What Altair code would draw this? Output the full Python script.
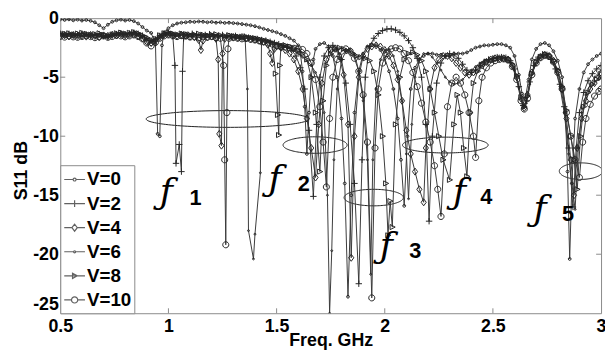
import altair as alt
import pandas as pd

SERIES = ["V=0", "V=2", "V=4", "V=6", "V=8", "V=10"]

V0 = [(0.50,-0.10),(0.52,-0.15),(0.54,-0.10),(0.56,-0.18),(0.58,-0.12),(0.60,-0.20),(0.62,-0.15),(0.64,-0.22),(0.66,-0.35),(0.68,-0.60),(0.70,-0.85),(0.72,-0.55),(0.74,-0.30),(0.76,-0.18),(0.78,-0.12),(0.80,-0.20),(0.82,-0.15),(0.84,-0.25),(0.86,-0.45),(0.88,-0.75),(0.90,-1.05),(0.92,-1.25),(0.94,-2.2),(0.95,-9.8),(0.96,-10.0),(0.97,-2.3),(0.98,-1.20),(1.00,-0.85),(1.02,-0.60),(1.04,-0.45),(1.06,-0.38),(1.08,-0.35),(1.10,-0.30),(1.12,-0.32),(1.14,-0.28),(1.16,-0.30),(1.18,-0.35),(1.20,-0.32),(1.22,-0.38),(1.24,-0.35),(1.26,-0.40),(1.28,-0.38),(1.30,-0.42),(1.32,-0.45),(1.34,-0.50),(1.36,-0.55),(1.38,-0.60),(1.40,-0.68),(1.42,-0.78),(1.44,-0.90),(1.46,-1.00),(1.48,-1.10),(1.50,-1.20),(1.52,-1.35),(1.54,-1.50),(1.56,-1.70),(1.58,-1.90),(1.60,-2.30),(1.61,-3.0),(1.62,-4.5),(1.63,-7.5),(1.64,-11.5),(1.65,-8.0),(1.66,-5.0),(1.67,-3.5),(1.68,-2.6),(1.70,-2.2),(1.72,-2.1),(1.74,-2.4),(1.76,-3.2),(1.78,-5.0),(1.80,-8.5),(1.815,-14.0),(1.83,-23.6),(1.845,-15.0),(1.86,-8.0),(1.88,-4.5),(1.90,-3.0),(1.92,-2.4),(1.94,-2.2),(1.96,-2.3),(1.98,-2.7),(2.00,-3.4),(2.02,-4.5),(2.04,-6.0),(2.06,-8.5),(2.075,-12.0),(2.09,-15.9),(2.105,-10.0),(2.12,-6.0),(2.14,-4.2),(2.16,-3.5),(2.18,-3.2),(2.20,-3.0),(2.22,-3.0),(2.24,-3.1),(2.26,-3.1),(2.28,-3.2),(2.30,-3.2),(2.32,-3.0),(2.34,-3.0),(2.36,-3.0),(2.38,-2.9),(2.40,-2.7),(2.42,-2.5),(2.44,-2.4),(2.46,-2.3),(2.48,-2.3),(2.50,-2.25),(2.52,-2.2),(2.54,-2.2),(2.56,-2.3),(2.58,-2.5),(2.60,-3.2),(2.62,-4.8),(2.635,-6.4),(2.65,-6.8),(2.665,-5.2),(2.68,-3.5),(2.70,-2.6),(2.72,-2.2),(2.74,-2.1),(2.76,-2.3),(2.78,-2.8),(2.80,-3.6),(2.82,-5.0),(2.835,-8.0),(2.845,-13.0),(2.855,-20.4),(2.865,-14.0),(2.88,-8.5),(2.90,-6.0),(2.92,-4.6),(2.94,-3.9),(2.96,-3.5),(2.98,-3.2),(3.00,-3.0)]

V2 = [(0.50,-1.30),(0.52,-1.38),(0.54,-1.32),(0.56,-1.45),(0.58,-1.40),(0.60,-1.30),(0.62,-1.38),(0.64,-1.48),(0.66,-1.42),(0.68,-1.35),(0.70,-1.50),(0.72,-1.58),(0.74,-1.45),(0.76,-1.35),(0.78,-1.28),(0.80,-1.38),(0.82,-1.30),(0.84,-1.22),(0.86,-1.32),(0.88,-1.48),(0.90,-1.70),(0.92,-1.90),(0.94,-1.80),(0.96,-1.50),(0.98,-1.32),(1.00,-1.25),(1.02,-1.45),(1.03,-4.0),(1.035,-12.3),(1.05,-10.7),(1.06,-13.0),(1.065,-4.5),(1.07,-1.7),(1.09,-1.40),(1.11,-1.32),(1.13,-1.40),(1.15,-1.50),(1.17,-1.42),(1.19,-1.35),(1.21,-1.45),(1.23,-1.52),(1.25,-1.42),(1.27,-1.50),(1.29,-1.56),(1.31,-1.50),(1.33,-1.60),(1.35,-1.55),(1.37,-1.65),(1.39,-1.70),(1.41,-1.76),(1.43,-1.85),(1.45,-1.90),(1.47,-2.00),(1.49,-2.10),(1.51,-2.20),(1.53,-2.32),(1.55,-2.45),(1.57,-2.70),(1.59,-3.20),(1.61,-4.20),(1.63,-6.00),(1.65,-9.50),(1.67,-15.1),(1.685,-9.0),(1.70,-5.0),(1.72,-3.2),(1.74,-2.5),(1.76,-2.3),(1.78,-2.6),(1.80,-3.5),(1.82,-5.5),(1.84,-9.0),(1.86,-14.0),(1.88,-22.5),(1.895,-12.0),(1.91,-5.0),(1.93,-2.4),(1.95,-1.7),(1.97,-1.3),(1.99,-1.05),(2.01,-0.92),(2.03,-0.90),(2.05,-1.0),(2.07,-1.2),(2.09,-1.5),(2.11,-1.9),(2.13,-2.5),(2.15,-3.4),(2.17,-5.0),(2.19,-9.0),(2.205,-17.2),(2.22,-10.0),(2.24,-5.5),(2.26,-3.8),(2.28,-3.2),(2.30,-3.0),(2.32,-3.1),(2.34,-3.4),(2.36,-3.9),(2.38,-4.4),(2.40,-4.6),(2.42,-4.4),(2.44,-4.0),(2.46,-3.7),(2.48,-3.5),(2.50,-3.4),(2.52,-3.3),(2.54,-3.3),(2.56,-3.35),(2.58,-3.6),(2.60,-4.3),(2.62,-5.8),(2.64,-7.4),(2.655,-7.0),(2.67,-5.4),(2.69,-4.0),(2.71,-3.3),(2.73,-3.05),(2.75,-3.1),(2.77,-3.5),(2.79,-4.3),(2.81,-5.6),(2.83,-7.5),(2.85,-11.0),(2.87,-16.0),(2.885,-11.0),(2.90,-8.0),(2.92,-6.3),(2.94,-5.3),(2.96,-4.7),(2.98,-4.3),(3.00,-4.0)]

V4 = [(0.50,-1.50),(0.52,-1.45),(0.54,-1.55),(0.56,-1.42),(0.58,-1.50),(0.60,-1.46),(0.62,-1.56),(0.64,-1.42),(0.66,-1.50),(0.68,-1.60),(0.70,-1.46),(0.72,-1.50),(0.74,-1.40),(0.76,-1.46),(0.78,-1.36),(0.80,-1.45),(0.82,-1.40),(0.84,-1.35),(0.86,-1.50),(0.88,-1.70),(0.90,-2.00),(0.92,-2.10),(0.94,-1.90),(0.96,-1.60),(0.98,-1.40),(1.00,-1.35),(1.02,-1.45),(1.04,-1.50),(1.06,-1.40),(1.08,-1.45),(1.10,-1.55),(1.12,-1.62),(1.14,-1.85),(1.15,-2.70),(1.16,-1.90),(1.18,-1.60),(1.20,-1.55),(1.22,-1.75),(1.23,-3.5),(1.235,-9.8),(1.245,-10.8),(1.25,-3.0),(1.26,-1.75),(1.28,-1.55),(1.30,-1.60),(1.32,-1.66),(1.34,-1.60),(1.36,-1.70),(1.38,-1.75),(1.40,-1.80),(1.42,-1.90),(1.44,-2.00),(1.46,-2.25),(1.47,-3.0),(1.48,-3.8),(1.49,-2.6),(1.50,-2.40),(1.52,-2.50),(1.54,-2.70),(1.56,-3.00),(1.58,-3.50),(1.60,-4.50),(1.62,-6.00),(1.64,-8.50),(1.66,-11.0),(1.68,-13.5),(1.695,-9.0),(1.71,-5.5),(1.73,-3.5),(1.75,-2.7),(1.77,-2.6),(1.79,-3.2),(1.81,-4.8),(1.83,-9.0),(1.845,-20.3),(1.86,-10.0),(1.88,-5.0),(1.90,-3.2),(1.92,-2.6),(1.94,-2.4),(1.96,-2.3),(1.98,-2.4),(2.00,-2.7),(2.02,-3.2),(2.04,-4.0),(2.06,-5.2),(2.08,-7.0),(2.10,-9.5),(2.12,-11.5),(2.14,-13.0),(2.16,-14.5),(2.18,-15.6),(2.19,-11.0),(2.21,-6.0),(2.23,-4.2),(2.25,-3.5),(2.27,-3.2),(2.29,-3.2),(2.31,-3.4),(2.33,-3.8),(2.35,-4.2),(2.37,-4.6),(2.39,-4.8),(2.41,-4.6),(2.43,-4.3),(2.45,-4.0),(2.47,-3.7),(2.49,-3.5),(2.51,-3.4),(2.53,-3.4),(2.55,-3.4),(2.57,-3.5),(2.59,-4.0),(2.61,-5.0),(2.63,-6.8),(2.645,-7.6),(2.66,-6.5),(2.68,-4.6),(2.70,-3.7),(2.72,-3.3),(2.74,-3.1),(2.76,-3.2),(2.78,-3.6),(2.80,-4.5),(2.82,-6.0),(2.84,-8.5),(2.86,-12.0),(2.875,-15.0),(2.89,-11.0),(2.91,-8.5),(2.93,-7.0),(2.95,-6.0),(2.97,-5.5),(2.99,-5.0),(3.00,-4.8)]

V6 = [(0.50,-1.40),(0.52,-1.48),(0.54,-1.40),(0.56,-1.35),(0.58,-1.45),(0.60,-1.52),(0.62,-1.45),(0.64,-1.36),(0.66,-1.42),(0.68,-1.50),(0.70,-1.62),(0.72,-1.52),(0.74,-1.40),(0.76,-1.32),(0.78,-1.40),(0.80,-1.35),(0.82,-1.28),(0.84,-1.32),(0.86,-1.42),(0.88,-1.60),(0.90,-1.85),(0.92,-2.00),(0.94,-1.95),(0.96,-1.65),(0.98,-1.45),(1.00,-1.30),(1.02,-1.38),(1.04,-1.45),(1.06,-1.36),(1.08,-1.42),(1.10,-1.50),(1.12,-1.45),(1.14,-1.40),(1.16,-1.48),(1.18,-1.55),(1.20,-1.50),(1.22,-1.46),(1.24,-1.55),(1.26,-1.60),(1.28,-1.55),(1.30,-1.62),(1.32,-1.66),(1.34,-1.70),(1.355,-1.9),(1.365,-6.0),(1.37,-18.0),(1.393,-20.4),(1.40,-18.3),(1.425,-13.1),(1.43,-2.2),(1.44,-1.90),(1.46,-1.95),(1.48,-2.05),(1.50,-2.15),(1.52,-2.25),(1.54,-2.40),(1.56,-2.55),(1.58,-2.75),(1.60,-3.00),(1.62,-3.30),(1.64,-3.60),(1.66,-4.00),(1.68,-4.60),(1.70,-5.50),(1.72,-8.0),(1.735,-15.0),(1.745,-25.0),(1.755,-19.7),(1.765,-12.0),(1.78,-6.0),(1.80,-3.6),(1.82,-2.8),(1.84,-2.6),(1.86,-3.0),(1.88,-4.5),(1.90,-7.0),(1.92,-12.0),(1.935,-21.7),(1.945,-12.0),(1.96,-6.0),(1.98,-3.5),(2.00,-2.7),(2.02,-2.6),(2.04,-3.2),(2.06,-4.5),(2.08,-7.0),(2.10,-11.5),(2.11,-15.3),(2.125,-9.0),(2.14,-5.0),(2.16,-3.5),(2.18,-3.0),(2.20,-3.0),(2.22,-3.3),(2.24,-3.8),(2.26,-4.4),(2.28,-5.0),(2.30,-5.4),(2.32,-5.6),(2.34,-5.5),(2.36,-5.2),(2.38,-4.8),(2.40,-4.4),(2.42,-4.1),(2.44,-3.8),(2.46,-3.6),(2.48,-3.5),(2.50,-3.45),(2.52,-3.4),(2.54,-3.4),(2.56,-3.45),(2.58,-3.7),(2.60,-4.4),(2.62,-5.9),(2.64,-7.5),(2.655,-7.2),(2.67,-5.6),(2.69,-4.1),(2.71,-3.4),(2.73,-3.15),(2.75,-3.15),(2.77,-3.5),(2.79,-4.4),(2.81,-5.8),(2.83,-8.0),(2.85,-11.5),(2.865,-14.0),(2.88,-16.2),(2.895,-11.0),(2.91,-8.0),(2.93,-6.5),(2.95,-5.6),(2.97,-5.0),(2.99,-4.6),(3.00,-4.4)]

V8 = [(0.50,-1.25),(0.52,-1.32),(0.54,-1.28),(0.56,-1.38),(0.58,-1.30),(0.60,-1.25),(0.62,-1.32),(0.64,-1.40),(0.66,-1.35),(0.68,-1.28),(0.70,-1.42),(0.72,-1.50),(0.74,-1.38),(0.76,-1.28),(0.78,-1.22),(0.80,-1.30),(0.82,-1.24),(0.84,-1.18),(0.86,-1.28),(0.88,-1.45),(0.90,-1.65),(0.92,-1.85),(0.94,-1.75),(0.96,-1.45),(0.98,-1.28),(1.00,-1.20),(1.02,-1.30),(1.04,-1.38),(1.06,-1.30),(1.08,-1.35),(1.10,-1.42),(1.12,-1.38),(1.14,-1.32),(1.16,-1.40),(1.18,-1.46),(1.20,-1.40),(1.22,-1.36),(1.24,-1.44),(1.26,-1.50),(1.28,-1.45),(1.30,-1.52),(1.32,-1.56),(1.34,-1.60),(1.36,-1.58),(1.38,-1.66),(1.40,-1.72),(1.42,-1.78),(1.44,-1.86),(1.46,-1.95),(1.48,-2.10),(1.495,-4.7),(1.505,-8.2),(1.51,-9.9),(1.515,-4.0),(1.52,-2.40),(1.54,-2.30),(1.56,-2.40),(1.58,-2.55),(1.60,-2.75),(1.62,-3.00),(1.64,-3.50),(1.66,-5.00),(1.68,-8.00),(1.70,-13.0),(1.715,-7.0),(1.73,-4.0),(1.75,-3.0),(1.77,-2.6),(1.79,-2.5),(1.81,-2.6),(1.83,-2.8),(1.85,-3.0),(1.87,-3.2),(1.89,-3.3),(1.91,-3.4),(1.93,-3.6),(1.95,-4.5),(1.97,-6.5),(1.99,-10.0),(2.005,-14.0),(2.015,-18.4),(2.025,-15.5),(2.035,-17.7),(2.05,-9.0),(2.07,-5.0),(2.09,-3.5),(2.11,-3.0),(2.13,-2.9),(2.15,-3.1),(2.17,-3.6),(2.19,-4.5),(2.21,-6.0),(2.23,-8.0),(2.25,-10.0),(2.27,-12.0),(2.30,-13.7),(2.32,-9.0),(2.335,-6.5),(2.35,-8.0),(2.365,-11.0),(2.38,-13.4),(2.395,-8.0),(2.41,-5.5),(2.43,-4.5),(2.45,-4.0),(2.47,-3.7),(2.49,-3.55),(2.51,-3.45),(2.53,-3.4),(2.55,-3.42),(2.57,-3.5),(2.59,-3.9),(2.61,-4.9),(2.63,-6.7),(2.645,-7.5),(2.66,-6.6),(2.68,-4.7),(2.70,-3.7),(2.72,-3.3),(2.74,-3.1),(2.76,-3.2),(2.78,-3.6),(2.80,-4.4),(2.82,-5.8),(2.84,-7.8),(2.86,-10.0),(2.875,-12.0),(2.89,-14.5),(2.905,-10.0),(2.92,-7.5),(2.94,-6.3),(2.96,-5.6),(2.98,-5.2),(3.00,-5.0)]

V10 = [(0.50,-1.55),(0.52,-1.60),(0.54,-1.50),(0.56,-1.58),(0.58,-1.62),(0.60,-1.55),(0.62,-1.48),(0.64,-1.56),(0.66,-1.65),(0.68,-1.58),(0.70,-1.50),(0.72,-1.62),(0.74,-1.55),(0.76,-1.45),(0.78,-1.50),(0.80,-1.58),(0.82,-1.50),(0.84,-1.42),(0.86,-1.55),(0.88,-1.75),(0.90,-2.10),(0.92,-2.35),(0.94,-2.05),(0.96,-1.70),(0.98,-1.50),(1.00,-1.42),(1.02,-1.50),(1.04,-1.56),(1.06,-1.48),(1.08,-1.52),(1.10,-1.60),(1.12,-1.55),(1.14,-1.65),(1.16,-1.58),(1.18,-1.62),(1.20,-1.56),(1.22,-1.64),(1.24,-1.70),(1.255,-4.0),(1.26,-12.0),(1.265,-19.2),(1.27,-8.0),(1.275,-2.6),(1.28,-1.70),(1.30,-1.65),(1.32,-1.70),(1.34,-1.75),(1.36,-1.72),(1.38,-1.80),(1.40,-1.85),(1.42,-1.92),(1.44,-2.00),(1.46,-2.10),(1.48,-2.20),(1.50,-2.30),(1.52,-2.40),(1.54,-2.45),(1.56,-2.50),(1.58,-2.55),(1.60,-2.58),(1.62,-2.65),(1.64,-3.00),(1.66,-3.80),(1.68,-5.20),(1.70,-7.50),(1.715,-10.5),(1.73,-14.3),(1.745,-8.5),(1.76,-5.0),(1.78,-3.5),(1.80,-2.8),(1.82,-2.6),(1.84,-2.8),(1.86,-3.4),(1.88,-4.5),(1.90,-6.5),(1.92,-10.5),(1.94,-23.7),(1.955,-11.0),(1.97,-6.0),(1.99,-3.8),(2.01,-3.0),(2.03,-2.6),(2.05,-2.5),(2.07,-2.6),(2.09,-3.0),(2.11,-3.6),(2.13,-4.6),(2.15,-5.8),(2.17,-7.2),(2.19,-8.8),(2.21,-10.5),(2.23,-12.5),(2.245,-14.5),(2.26,-16.8),(2.275,-11.5),(2.29,-7.5),(2.31,-5.5),(2.33,-5.0),(2.35,-5.5),(2.37,-6.5),(2.39,-8.0),(2.41,-10.0),(2.42,-11.8),(2.435,-7.0),(2.45,-5.0),(2.47,-4.2),(2.49,-3.8),(2.51,-3.6),(2.53,-3.5),(2.55,-3.45),(2.57,-3.55),(2.59,-4.1),(2.61,-5.2),(2.63,-7.0),(2.645,-7.7),(2.66,-6.8),(2.68,-4.8),(2.70,-3.8),(2.72,-3.35),(2.74,-3.15),(2.76,-3.25),(2.78,-3.7),(2.80,-4.6),(2.82,-6.0),(2.84,-8.0),(2.86,-10.0),(2.88,-12.0),(2.90,-13.5),(2.915,-10.5),(2.93,-8.5),(2.95,-7.3),(2.97,-6.6),(2.99,-6.2),(3.00,-6.0)]

CURVES = [V0, V2, V4, V6, V8, V10]

XTICKS = [0.5, 1, 1.5, 2, 2.5, 3]
YTICKS = [0, -5, -10, -15, -20, -25]

# annotation ellipses (centre GHz, centre dB, half-width GHz, half-height dB)
ELL_F = [1.273, 1.678, 1.949, 2.280, 2.907]
ELL_DB = [-8.54, -10.75, -15.2, -10.75, -12.96]
ELL_RX = [0.376, 0.148, 0.137, 0.198, 0.100]
ELL_RY = [0.71, 0.70, 0.70, 0.67, 0.70]

# f-labels
FLAB_F = [0.960, 1.462, 1.977, 2.315, 2.688]
FLAB_DB = [-15.75, -14.67, -20.33, -15.75, -17.17]
DIG_F = [1.097, 1.598, 2.113, 2.442, 2.820]
DIG_DB = [-15.83, -14.67, -20.33, -15.75, -17.17]
DIG_TXT = ["1", "2", "3", "4", "5"]

POINT_PATHS = [
    "M-0.45,0A0.45,0.45 0 1,0 0.45,0A0.45,0.45 0 1,0 -0.45,0Z",
    "M-1,0H1M0,-1V1",
    "M0,-1.1L0.8,0L0,1.1L-0.8,0Z",
    "M-0.3,0A0.3,0.3 0 1,0 0.3,0A0.3,0.3 0 1,0 -0.3,0Z",
    "M-0.7,-0.8L0.9,0L-0.7,0.8Z",
    "M-0.95,0A0.95,0.95 0 1,0 0.95,0A0.95,0.95 0 1,0 -0.95,0Z",
]
LEGEND_PATHS = [
    "M-1,0H-0.14A0.14,0.14 0 1,0 0.14,0A0.14,0.14 0 1,0 -0.14,0M0.14,0H1",
    "M-1,0H1M0,-0.32V0.32",
    "M-1,0H-0.26L0,-0.34L0.26,0L0,0.34L-0.26,0M0.26,0H1",
    "M-1,0H-0.1A0.1,0.1 0 1,0 0.1,0A0.1,0.1 0 1,0 -0.1,0M0.1,0H1",
    "M-1,0H1M-0.2,-0.26L0.26,0L-0.2,0.26Z",
    "M-1,0H-0.3A0.3,0.3 0 1,0 0.3,0A0.3,0.3 0 1,0 -0.3,0M0.3,0H1",
]

rows = []
for name, pts in zip(SERIES, CURVES):
    for i, (f, v) in enumerate(pts):
        rows.append({"series": name, "f": f, "db": v, "i": i})
df = pd.DataFrame(rows)

W, H = 548, 299
FONT = "Liberation Sans"
GRAY = "#8a8a8a"

xscale = alt.Scale(domain=[0.5, 3], nice=False, zero=False)
yscale = alt.Scale(domain=[-25, 0], nice=False, zero=False)

xaxis = alt.Axis(values=XTICKS, labelExpr="'' + datum.value", labelFlush=False,
                 ticks=False, domain=False, grid=False, labelOverlap=False,
                 labelFont=FONT, labelFontSize=18, labelFontWeight="bold",
                 labelColor="black", labelPadding=5,
                 titleFont=FONT, titleFontSize=18, titleFontWeight="bold",
                 titleColor="black", titleY=19)
yaxis = alt.Axis(values=YTICKS, labelExpr="'' + datum.value", labelFlush=False,
                 ticks=False, domain=False, grid=False, labelOverlap=False,
                 labelFont=FONT, labelFontSize=18, labelFontWeight="bold",
                 labelColor="black", labelPadding=2, labelOffset=0,
                 labelBaseline={"condition": {"test": "datum.value == -25",
                                              "value": "bottom"},
                                "value": "middle"},
                 titleFont=FONT, titleFontSize=18, titleFontWeight="bold",
                 titleColor="black", titleX=-30, titleY=154)

X = alt.X("f:Q", scale=xscale, axis=xaxis, title="Freq. GHz")
Y = alt.Y("db:Q", scale=yscale, axis=yaxis, title="S11 dB")

base = alt.Chart(df)
lines = base.mark_line(color="#3a3a3a", strokeWidth=1, clip=True).encode(
    x=X, y=Y, detail="series:N", order="i:Q")
points = base.mark_point(filled=False, size=42, strokeWidth=1, color="#262626",
                         opacity=1, clip=True).encode(
    x=X, y=Y,
    shape=alt.Shape("series:N", scale=alt.Scale(domain=SERIES, range=POINT_PATHS),
                    legend=None))

legend_layer = alt.Chart(pd.DataFrame({"series": SERIES})).transform_filter(
    "datum.series == 'none'").mark_point(filled=False, color="#202020").encode(
    shape=alt.Shape("series:N", scale=alt.Scale(domain=SERIES, range=LEGEND_PATHS),
                    legend=alt.Legend(orient="bottom-left", offset=0, title=None,
                                      strokeColor=GRAY, fillColor="white",
                                      padding=3, rowPadding=2.4, symbolSize=441,
                                      symbolStrokeWidth=1.2, symbolStrokeColor="#202020",
                                      labelFont=FONT, labelFontSize=19,
                                      labelFontWeight="bold", labelColor="black",
                                      labelOffset=1, cornerRadius=0)))

ell_df = pd.DataFrame({"id": list(range(len(ELL_F))), "cf": ELL_F, "cy": ELL_DB,
                       "rx": ELL_RX, "ry": ELL_RY})
ellipses = alt.Chart(ell_df).transform_calculate(
    t="sequence(0, 6.34, 0.05)").transform_flatten(["t"]).transform_calculate(
    f="datum.cf + datum.rx * cos(datum.t)",
    db="datum.cy + datum.ry * sin(datum.t)").mark_line(
    color="#202020", strokeWidth=1, clip=True).encode(
    x=X, y=Y, detail="id:N", order="t:Q")

flab = alt.Chart(pd.DataFrame({"f": FLAB_F, "db": FLAB_DB})).mark_text(
    text="ƒ", font="DejaVu Serif", fontStyle="italic", fontSize=36,
    align="left", baseline="alphabetic", color="black").encode(x=X, y=Y)
dlab = alt.Chart(pd.DataFrame({"f": DIG_F, "db": DIG_DB, "t": DIG_TXT})).mark_text(
    font=FONT, fontWeight="bold", fontSize=22, align="left",
    baseline="alphabetic", color="black").encode(x=X, y=Y, text="t:N")

xt = pd.DataFrame({"f": XTICKS[1:-1]})
yt = pd.DataFrame({"db": YTICKS[1:-1]})
tick_b = alt.Chart(xt).mark_rule(color=GRAY, strokeWidth=1).encode(
    x=X, y=alt.value(H), y2=alt.value(H - 5))
tick_t = alt.Chart(xt).mark_rule(color=GRAY, strokeWidth=1).encode(
    x=X, y=alt.value(0), y2=alt.value(5))
tick_l = alt.Chart(yt).mark_rule(color=GRAY, strokeWidth=1).encode(
    y=Y, x=alt.value(0), x2=alt.value(5))
tick_r = alt.Chart(yt).mark_rule(color=GRAY, strokeWidth=1).encode(
    y=Y, x=alt.value(W), x2=alt.value(W - 5))

chart = alt.layer(
    tick_b, tick_t, tick_l, tick_r, ellipses, lines, points, flab, dlab, legend_layer
).resolve_scale(shape="independent").properties(
    width=W, height=H,
    padding={"left": 53, "top": 8, "right": 4, "bottom": 40},
    autosize=alt.AutoSizeParams(type="none"),
    background="white",
).configure_view(stroke=GRAY, strokeWidth=1)

chart.save("out.html", embed_options={"renderer": "svg", "actions": False})
